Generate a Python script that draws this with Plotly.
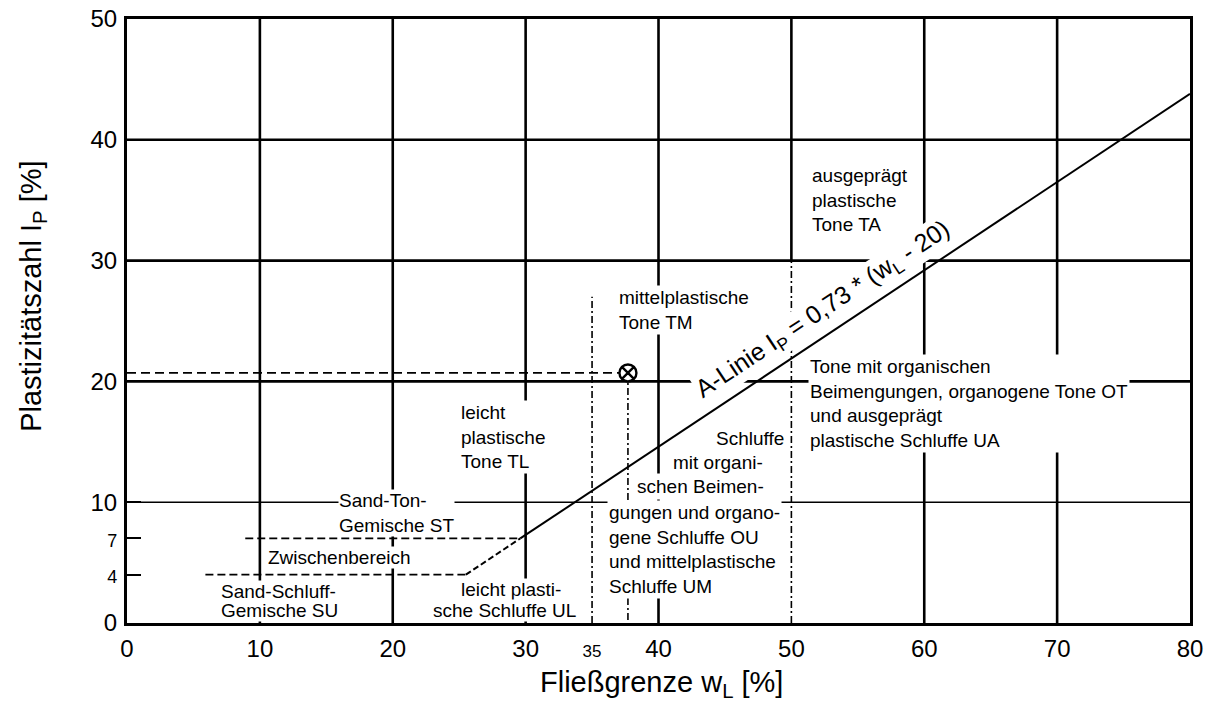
import plotly.graph_objects as go

FONT = "Liberation Sans, Arial, sans-serif"

# ---------------- data ----------------
x_tick_vals = [0, 10, 20, 30, 35, 40, 50, 60, 70, 80]
x_tick_text = ["0", "10", "20", "30", "35", "40", "50", "60", "70", "80"]
y_tick_vals = [0, 4, 7, 10, 20, 30, 40, 50]
y_tick_text = ["0", "4", "7", "10", "20", "30", "40", "50"]
grid_x = [10, 20, 30, 40, 50, 60, 70]
grid_y = [10, 20, 30, 40]

# A-line  Ip = 0.73 * (wL - 20)
a_line_dashed_wl = [25.5, 29.6]
a_line_dashed_ip = [4, 7]
a_line_solid_wl = [29.6, 80]
a_line_solid_ip = [7, 43.8]

# horizontal zone borders (dashed)
zone_h_ip = [4, 7]
zone_h_wl_start = [5.9, 8.9]
zone_h_wl_end = [25.5, 29.6]

# vertical zone borders (dash-dot)
zone_v_wl = [35, 50]
zone_v_ip_top = [27, 30]

# sample point
sample_wl = [37.7]
sample_ip = [20.7]

fig = go.Figure()

# grid lines (axis structure); where a dash-dot zone border lies on a grid
# line, the solid grid line only starts above the border
zone_top = dict(zip(zone_v_wl, zone_v_ip_top))
for gx in grid_x:
    fig.add_shape(type="line", xref="x", yref="y", x0=gx, x1=gx,
                  y0=zone_top.get(gx, 0), y1=50,
                  line=dict(color="black", width=2.6), layer="below")
for gy in grid_y:
    fig.add_shape(type="line", xref="x", yref="y", x0=0, x1=80, y0=gy, y1=gy,
                  line=dict(color="black", width=1.6 if gy == 10 else 2.6), layer="below")

# horizontal zone borders
for ip, xs, xe in zip(zone_h_ip, zone_h_wl_start, zone_h_wl_end):
    fig.add_trace(go.Scatter(x=[xs, xe], y=[ip, ip], mode="lines",
                             line=dict(color="black", width=1.8, dash="8px,4px"),
                             showlegend=False, hoverinfo="skip"))

# vertical zone borders
for wl, top in zip(zone_v_wl, zone_v_ip_top):
    fig.add_trace(go.Scatter(x=[wl, wl], y=[0, top], mode="lines",
                             line=dict(color="black", width=1.6, dash="7px,3px,2px,3px"),
                             showlegend=False, hoverinfo="skip"))

# A-line
fig.add_trace(go.Scatter(x=a_line_dashed_wl, y=a_line_dashed_ip, mode="lines",
                         line=dict(color="black", width=2, dash="6px,3px"),
                         showlegend=False, hoverinfo="skip"))
fig.add_trace(go.Scatter(x=a_line_solid_wl, y=a_line_solid_ip, mode="lines",
                         line=dict(color="black", width=2),
                         showlegend=False, hoverinfo="skip"))

# sample reference lines
fig.add_trace(go.Scatter(x=[0, sample_wl[0]], y=[sample_ip[0], sample_ip[0]], mode="lines",
                         line=dict(color="black", width=1.8, dash="9px,5px"),
                         showlegend=False, hoverinfo="skip"))
fig.add_trace(go.Scatter(x=[sample_wl[0], sample_wl[0]], y=[sample_ip[0], 0], mode="lines",
                         line=dict(color="black", width=1.6, dash="7px,3px,2px,3px"),
                         showlegend=False, hoverinfo="skip"))
fig.add_trace(go.Scatter(x=sample_wl, y=sample_ip, mode="markers",
                         marker=dict(symbol="circle-x", size=17, color="white",
                                     line=dict(color="black", width=2.4)),
                         showlegend=False, hoverinfo="skip"))


def label(text, x, y, xanchor="left", size=19, pad=1, **kw):
    fig.add_annotation(text=text, x=x, y=y, xref="x", yref="y", showarrow=False,
                       xanchor=xanchor, yanchor="middle",
                       align=xanchor if xanchor != "center" else "center",
                       bgcolor="white", borderpad=pad,
                       font=dict(family=FONT, size=size, color="black"), **kw)


label("ausgeprägt<br>plastische<br>Tone TA", 51.4, 35.0)
label("mittelplastische<br>Tone TM", 36.9, 25.9)
label("Tone mit organischen<br>Beimengungen, organogene Tone OT<br>und ausgeprägt<br>plastische Schluffe UA", 51.25, 18.2)
label("leicht<br>plastische<br>Tone TL", 25.0, 15.4)
label("Sand-Ton-<br>Gemische ST", 15.9, 9.1, pad=0)
label("Zwischenbereich", 10.5, 5.46, pad=0)
label("Sand-Schluff-", 6.97, 2.6, pad=0)
label("Gemische SU", 6.97, 1.05, pad=0)
label("leicht plasti-", 28.88, 2.75, xanchor="center", pad=0)
label("sche Schluffe UL", 28.43, 1.05, xanchor="center", pad=0)
label("Schluffe", 44.09, 15.31, pad=2)
label("mit organi-", 40.85, 13.25, pad=2)
label("schen Beimen-", 38.14, 11.26, pad=2)
label("gungen und organo-<br>gene Schluffe OU<br>und mittelplastische<br>Schluffe UM", 36.1, 6.08)

fig.add_annotation(text="A-Linie I<sub>P</sub> = 0,73 * (w<sub>L</sub> - 20)",
                   x=52.4, y=25.9, xref="x", yref="y", showarrow=False,
                   xanchor="center", yanchor="middle", textangle=-33.6,
                   bgcolor="white", borderpad=0,
                   font=dict(family=FONT, size=25, color="black"))

# axis titles
fig.add_annotation(text="Plastizitätszahl I<sub>P</sub> [%]", x=-0.0884, y=27.0,
                   xref="paper", yref="y", showarrow=False, textangle=-90,
                   xanchor="center", yanchor="middle",
                   font=dict(family=FONT, size=29, color="black"))
fig.add_annotation(text="Fließgrenze w<sub>L</sub> [%]", x=40.2, y=-0.101,
                   xref="x", yref="paper", showarrow=False,
                   xanchor="center", yanchor="middle",
                   font=dict(family=FONT, size=29, color="black"))

x_ticktext_styled = [t if t != "35" else '<span style="font-size:17px">35</span>' for t in x_tick_text]
y_ticktext_styled = [t if t not in ("4", "7") else f'<span style="font-size:18px">{t}</span>' for t in y_tick_text]

fig.update_layout(
    width=1211, height=702,
    margin=dict(l=127, r=21, t=19, b=79, autoexpand=False),
    paper_bgcolor="white", plot_bgcolor="white",
    showlegend=False,
    xaxis=dict(range=[0, 80], tickvals=x_tick_vals, ticktext=x_ticktext_styled,
               showgrid=False, zeroline=False, showline=True, mirror=True,
               linecolor="black", linewidth=3, ticks="", ticklabelstandoff=2,
               automargin=False,
               tickfont=dict(family=FONT, size=24, color="black")),
    yaxis=dict(range=[0, 50], tickvals=y_tick_vals, ticktext=y_ticktext_styled,
               showgrid=False, zeroline=False, showline=True, mirror=True,
               linecolor="black", linewidth=3, ticks="inside", ticklen=14,
               tickwidth=2, tickcolor="black", ticklabelstandoff=2,
               automargin=False,
               tickfont=dict(family=FONT, size=24, color="black")),
)

fig.write_html("out.html", config={"displayModeBar": False},
               post_script="document.body.style.margin='0';")
